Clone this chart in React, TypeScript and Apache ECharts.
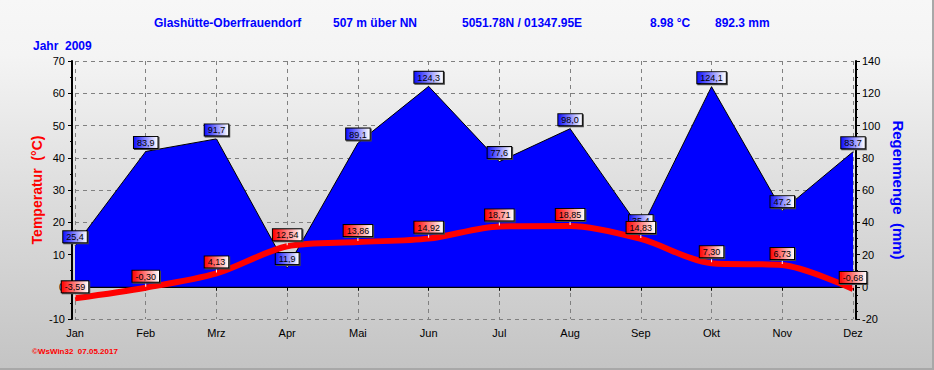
import React, { useEffect, useRef } from "react";
import * as echarts from "echarts";

const months = ["Jan", "Feb", "Mrz", "Apr", "Mai", "Jun", "Jul", "Aug", "Sep", "Okt", "Nov", "Dez"];
const temperature = [-3.59, -0.3, 4.13, 12.54, 13.86, 14.92, 18.71, 18.85, 14.83, 7.3, 6.73, -0.68];
const rain = [25.4, 83.9, 91.7, 11.9, 89.1, 124.3, 77.6, 98.0, 35.4, 124.1, 47.2, 83.7];
const headerTexts = [
  { text: "Glashütte-Oberfrauendorf", x: 154 },
  { text: "507 m über NN", x: 333 },
  { text: "5051.78N / 01347.95E", x: 462 },
  { text: "8.98 °C", x: 650 },
  { text: "892.3 mm", x: 715 },
];
const yearText = "Jahr  2009";
const footerText = "©WsWin32  07.05.2017";

const FONT = "Liberation Sans, Arial, sans-serif";

function boxLabel(from: string, decimals: number, distance: number) {
  return {
    show: true,
    position: "top" as const,
    distance,
    formatter: (p: any) => Number(p.value).toFixed(decimals).replace(".", ","),
    fontFamily: FONT,
    fontSize: 9,
    lineHeight: 10,
    color: "#000",
    backgroundColor: new echarts.graphic.LinearGradient(0, 0, 1, 0, [
      { offset: 0, color: from },
      { offset: 1, color: "#ffffff" },
    ]),
    borderColor: "#000",
    borderWidth: 1,
    padding: [1, 3, 0, 3],
    shadowColor: "#444",
    shadowOffsetX: 1,
    shadowOffsetY: 1,
    shadowBlur: 0,
  };
}

export default function App() {
  const ref = useRef<HTMLDivElement>(null);
  useEffect(() => {
    document.body.style.margin = "0";
    const chart = echarts.init(ref.current!, null, { renderer: "svg" });
    const dashed = { lineStyle: { color: "#808080", type: [4, 4] as any, width: 1 } };
    chart.setOption({
      animation: false,
      grid: { left: 75, right: 79, top: 61, bottom: 49 },
      graphic: [
        ...headerTexts.map((h) => ({
          type: "text",
          x: h.x,
          y: 23,
          style: { text: h.text, fill: "#0000ff", font: `bold 12px ${FONT}`, verticalAlign: "middle" },
        })),
        {
          type: "text",
          x: 33,
          y: 46,
          style: { text: yearText, fill: "#0000ff", font: `bold 12px ${FONT}`, verticalAlign: "middle" },
        },
        {
          type: "text",
          x: 32,
          y: 351,
          style: { text: footerText, fill: "#ff0000", font: `bold 8px ${FONT}`, verticalAlign: "middle" },
        },
      ],
      xAxis: [
        {
          type: "category",
          data: months,
          boundaryGap: false,
          axisLine: { lineStyle: { color: "#000", width: 2 } },
          axisTick: { show: true, length: 4, lineStyle: { color: "#000" } },
          axisLabel: { color: "#000", fontFamily: FONT, fontSize: 11, margin: 8 },
          splitLine: { show: true, ...dashed },
        },
        {
          type: "category",
          data: months,
          boundaryGap: false,
          position: "top",
          axisLine: { lineStyle: { color: "#000", width: 1 } },
          axisTick: { show: false },
          axisLabel: { show: false },
          splitLine: { show: false },
        },
      ],
      yAxis: [
        {
          type: "value",
          min: -10,
          max: 70,
          interval: 10,
          offset: 3,
          name: "Temperatur  (°C)",
          nameLocation: "middle",
          nameRotate: 90,
          nameGap: 28,
          nameMoveOverlap: false,
          nameTextStyle: { color: "#ff0000", fontFamily: FONT, fontSize: 14, fontWeight: "bold" },
          axisLine: { show: true, lineStyle: { color: "#000", width: 2 } },
          axisTick: { show: true, length: 4, lineStyle: { color: "#000" } },
          minorTick: { show: true, splitNumber: 2, length: 2, lineStyle: { color: "#000" } },
          axisLabel: { color: "#000", fontFamily: FONT, fontSize: 11, margin: 7 },
          splitLine: { show: true, ...dashed },
        },
        {
          type: "value",
          min: -20,
          max: 140,
          interval: 20,
          offset: 3,
          position: "right",
          name: "Regenmenge  (mm)",
          nameLocation: "middle",
          nameRotate: -90,
          nameGap: 35,
          nameMoveOverlap: false,
          nameTextStyle: { color: "#0000ff", fontFamily: FONT, fontSize: 15, fontWeight: "bold" },
          axisLine: { show: true, lineStyle: { color: "#000", width: 2 } },
          axisTick: { show: true, length: 4, lineStyle: { color: "#000" } },
          minorTick: { show: true, splitNumber: 4, length: 2, lineStyle: { color: "#000" } },
          axisLabel: { color: "#000", fontFamily: FONT, fontSize: 11, margin: 6 },
          splitLine: { show: false },
        },
      ],
      series: [
        {
          name: "Regenmenge",
          type: "line",
          yAxisIndex: 1,
          data: rain,
          z: 2,
          showSymbol: true,
          symbol: "rect",
          symbolSize: [1, 5],
          symbolOffset: [0, -3],
          itemStyle: { color: "#ffffff", borderWidth: 0 },
          lineStyle: { color: "#000", width: 1 },
          areaStyle: { color: "#0000ff", opacity: 1 },
          label: boxLabel("#1010ff", 1, -2),
        },
        {
          name: "Temperatur",
          type: "line",
          yAxisIndex: 0,
          data: temperature,
          z: 3,
          smooth: 0.3,
          showSymbol: true,
          symbol: "rect",
          symbolSize: [1, 6],
          symbolOffset: [0, -4],
          itemStyle: { color: "#ffffff", borderWidth: 0 },
          lineStyle: { color: "#ff0000", width: 6 },
          label: boxLabel("#ff0000", 2, -1),
        },
      ],
    });
    return () => chart.dispose();
  }, []);
  return (
    <div
      style={{
        width: 934,
        height: 370,
        boxSizing: "border-box",
        borderRight: "2px solid #a8a8a8",
        borderBottom: "2px solid #a8a8a8",
        background: "linear-gradient(to bottom, #f7f7f7 0%, #f4f4f4 15%, #dcdcdc 55%, #c4c4c4 100%)",
      }}
    >
      <div ref={ref} style={{ width: 932, height: 368 }} />
    </div>
  );
}
